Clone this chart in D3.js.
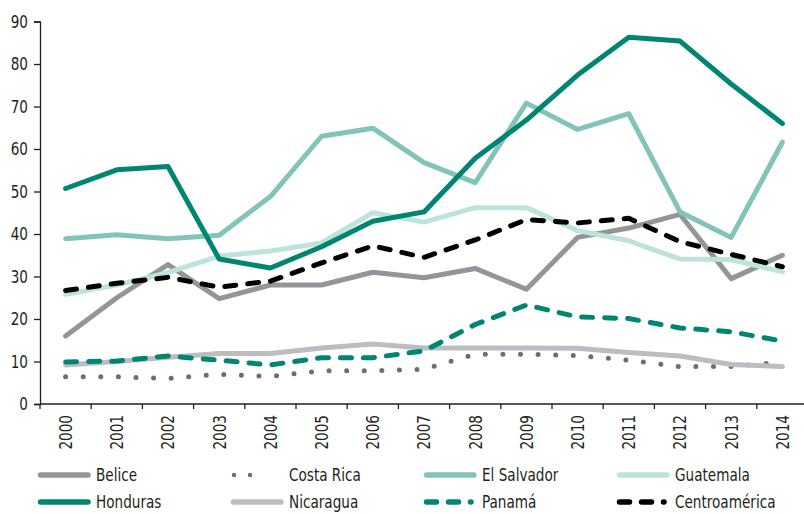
<!DOCTYPE html>
<html><head><meta charset="utf-8">
<script src="https://cdn.jsdelivr.net/npm/d3@7"></script>
<style>
html,body{margin:0;padding:0;background:#fff;}
svg{display:block;}
text{font-family:"Liberation Sans Narrow","DejaVu Sans Condensed","Arial Narrow",sans-serif;fill:#231f20;}
</style></head>
<body><svg id="chart" width="804" height="514"></svg>
<script>
const years = ["2000","2001","2002","2003","2004","2005","2006","2007","2008","2009","2010","2011","2012","2013","2014"];
const yTicks = [0,10,20,30,40,50,60,70,80,90];
const belice     = [16, 25, 32.8, 24.8, 28, 28, 31, 29.7, 31.9, 27, 39.2, 41.4, 44.6, 29.5, 35];
const costaRica  = [6.4, 6.4, 6.0, 7.0, 6.5, 7.8, 7.8, 8.2, 11.7, 11.7, 11.4, 10.3, 8.8, 8.8, 9.9];
const elSalvador = [38.9, 39.8, 38.9, 39.7, 48.8, 63, 64.9, 56.8, 52.1, 70.8, 64.6, 68.3, 45.2, 39.2, 61.6];
const guatemala  = [25.8, 28, 30.9, 34.8, 36, 37.9, 45, 42.8, 46.2, 46.2, 40.8, 38.4, 34.1, 34, 31.1];
const honduras   = [50.7, 55.1, 55.9, 34.1, 32, 37, 43, 45.2, 57.8, 66.8, 77.4, 86.3, 85.4, 75.3, 66];
const nicaragua  = [9.2, 10, 11, 11.9, 11.9, 13.2, 14.1, 13.2, 13.2, 13.2, 13.1, 12.1, 11.3, 9.3, 8.8];
const panama     = [9.9, 10.1, 11.3, 10.3, 9.2, 10.9, 10.9, 12.5, 18.7, 23.3, 20.5, 20.1, 17.9, 17, 14.8];
const centro     = [26.7, 28.4, 29.8, 27.5, 28.9, 33.2, 37.2, 34.5, 38.6, 43.4, 42.6, 43.7, 38.2, 35.2, 32.3];

const series = [
  {name:"Costa Rica", values:costaRica, color:"#6d6e71", dash:"0,17.6", width:5, legend:{col:1,row:0}},
  {name:"Nicaragua", values:nicaragua, color:"#bcbdc0", dash:null, width:5, legend:{col:1,row:1}},
  {name:"Belice", values:belice, color:"#939598", dash:null, width:5, legend:{col:0,row:0}},
  {name:"El Salvador", values:elSalvador, color:"#83c4b8", dash:null, width:5, legend:{col:2,row:0}},
  {name:"Guatemala", values:guatemala, color:"#bee2dc", dash:null, width:5, legend:{col:3,row:0}},
  {name:"Honduras", values:honduras, color:"#008573", dash:null, width:5, legend:{col:0,row:1}},
  {name:"Panamá", values:panama, color:"#008573", dash:"11,12", width:5, legend:{col:2,row:1}},
  {name:"Centroamérica", values:centro, color:"#000000", dash:"11,12", width:5, legend:{col:3,row:1}}
];

const svg = d3.select("#chart");
const mLeft = 40, mRight = 808, mTop = 21.5, mBottom = 404;
const sx = 0.84;
const x = d3.scaleBand().domain(years).range([mLeft, mRight]);
const y = d3.scaleLinear().domain([0, 90]).range([mBottom, mTop]);

// y axis
const yAxis = svg.append("g").attr("transform", `translate(${mLeft},0)`)
  .call(d3.axisLeft(y).tickValues(yTicks).tickSize(6).tickPadding(5).tickFormat(d3.format("d")));
yAxis.select(".domain").attr("stroke", "#231f20").attr("stroke-width", 1.3);
yAxis.selectAll(".tick line").attr("stroke", "#231f20").attr("stroke-width", 1.3);
yAxis.selectAll(".tick text").style("font-size", "18px").attr("fill", "#231f20")
  .attr("x", 0).attr("transform", `translate(-12,0) scale(${sx},1)`);

// x axis
const xg = svg.append("g").attr("transform", `translate(0,${mBottom})`);
xg.append("line").attr("x1", mLeft).attr("x2", mRight).attr("y1", 0).attr("y2", 0)
  .attr("stroke", "#231f20").attr("stroke-width", 1.3);
const boundaries = years.map(d => x(d)).concat([x(years[years.length-1]) + x.bandwidth()]);
xg.selectAll("line.tk").data(boundaries).enter().append("line").attr("class","tk")
  .attr("x1", d => d).attr("x2", d => d).attr("y1", 0).attr("y2", 5)
  .attr("stroke", "#231f20").attr("stroke-width", 1.3);
xg.selectAll("text").data(years).enter().append("text")
  .attr("transform", d => `translate(${x(d) + x.bandwidth()/2},11) rotate(-90) scale(${sx},1)`)
  .attr("text-anchor", "end").attr("dy", "0.35em")
  .style("font-size", "18px").text(d => d);

// lines
const line = d3.line().x((d, i) => x(years[i]) + x.bandwidth()/2).y(d => y(d));
series.forEach(s => {
  svg.append("path").datum(s.values).attr("d", line)
    .attr("fill", "none").attr("stroke", s.color).attr("stroke-width", s.width)
    .attr("stroke-linecap", "round").attr("stroke-linejoin", "round")
    .attr("stroke-dasharray", s.dash);
});

// legend
const colX = [38, 231, 424, 617];
const rowY = [475, 502];
series.forEach(s => {
  const gx = colX[s.legend.col], gy = rowY[s.legend.row];
  let x1 = gx + 2.5, x2 = gx + 50;
  let dash = null;
  if (s.name === "Costa Rica") { x1 = gx + 3; x2 = gx + 35; dash = "0,16"; }
  else if (s.dash) { x1 = gx + 2.5; x2 = gx + 47; dash = "10,12"; }
  svg.append("line").attr("x1", x1).attr("x2", x2).attr("y1", gy).attr("y2", gy)
    .attr("stroke", s.color).attr("stroke-width", s.name === "Costa Rica" ? 4.5 : 5.5)
    .attr("stroke-linecap", "round").attr("stroke-dasharray", dash);
  svg.append("text").attr("transform", `translate(${gx + 58},${gy}) scale(${sx},1)`)
    .attr("dy", "0.35em").style("font-size", "18px").text(s.name);
});
</script></body></html>
